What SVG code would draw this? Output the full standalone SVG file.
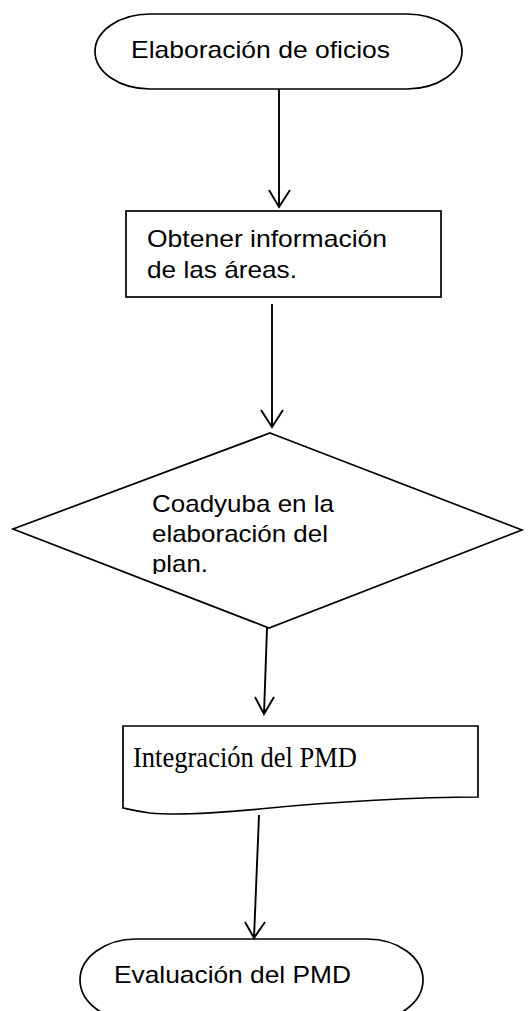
<svg xmlns="http://www.w3.org/2000/svg" width="529" height="1011" viewBox="0 0 529 1011">
<style>
.s{fill:#fff;stroke:#000;stroke-width:1.7}
.c{fill:none;stroke:#000;stroke-width:1.9}
.t{font-family:"Liberation Sans",Arial,sans-serif;font-size:24px;fill:#000}
.tt{font-family:"Liberation Serif","Times New Roman",serif;font-size:28.5px;fill:#000}
</style>
<defs>
<clipPath id="dclip"><rect x="0" y="480" width="529" height="94"/></clipPath>
</defs>
<rect width="529" height="1011" fill="#fff"/>
<g id="n1">
<rect class="s" x="95" y="14" width="367" height="75" rx="55" ry="37.5"/>
<text class="t" x="131" y="57.5" textLength="259" lengthAdjust="spacingAndGlyphs">Elaboración de oficios</text>
</g>
<g id="n2">
<rect class="s" x="126" y="211" width="315" height="86"/>
<text class="t" x="147" y="246.5" textLength="240" lengthAdjust="spacingAndGlyphs">Obtener información</text>
<text class="t" x="147" y="278" textLength="150" lengthAdjust="spacingAndGlyphs">de las áreas.</text>
</g>
<g id="n3">
<polygon class="s" points="270,433 522,530 269,628 13,529"/>
<g clip-path="url(#dclip)">
<text class="t" x="152" y="512" textLength="182" lengthAdjust="spacingAndGlyphs">Coadyuba en la</text>
<text class="t" x="152" y="542" textLength="176" lengthAdjust="spacingAndGlyphs">elaboración del</text>
<text class="t" x="152" y="572" textLength="56" lengthAdjust="spacingAndGlyphs">plan.</text>
</g>
</g>
<g id="n4">
<path class="s" d="M123,726 H478 V797 C420,797 330,802 270,808 C220,813 180,816 150,813 C135,811 128,809 123,808 Z"/>
<text class="tt" x="133" y="766.5" textLength="224" lengthAdjust="spacingAndGlyphs">Integración del PMD</text>
</g>
<g id="n5">
<rect class="s" x="80" y="939" width="343" height="82" rx="56" ry="41"/>
<text class="t" x="114" y="983" textLength="237" lengthAdjust="spacingAndGlyphs">Evaluación del PMD</text>
</g>
<g id="connectors">
<path class="c" d="M279,89 V207 M269,190 L279,207 L290,190"/>
<path class="c" d="M272,304 V427 M261,410 L272,427 L283,410"/>
<path class="c" d="M267,628 L264,714 M255,697 L264,714 L274,697"/>
<path class="c" d="M259,815 L254,938 M245,922 L254,938 L265,922"/>
</g>
</svg>
